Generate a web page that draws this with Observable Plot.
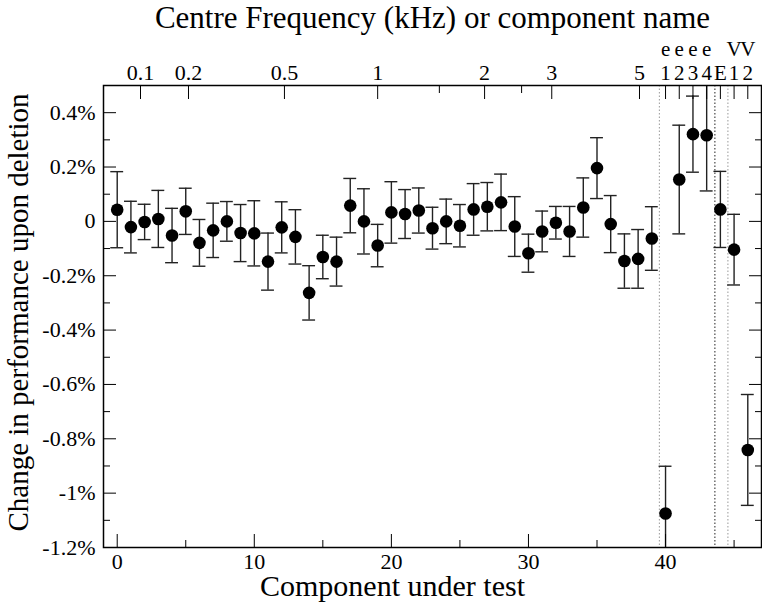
<!DOCTYPE html>
<html>
<head>
<meta charset="utf-8">
<script src="https://cdn.jsdelivr.net/npm/d3@7"></script>
<script src="https://cdn.jsdelivr.net/npm/@observablehq/plot@0.6"></script>
<style>
  html, body { margin: 0; padding: 0; background: #fff; }
  svg { display: block; }
</style>
</head>
<body>
<script>
// ---- data ----
const components = d3.range(0, 47); // component index 0..46
const changePct = [0.043,-0.021,-0.002,0.009,-0.052,0.037,-0.079,-0.033,0.0,-0.043,
  -0.044,-0.148,-0.022,-0.057,-0.263,-0.131,-0.148,0.058,0.0,-0.089,
  0.033,0.027,0.04,-0.025,0.0,-0.016,0.044,0.054,0.07,-0.019,
  -0.117,-0.037,-0.005,-0.037,0.051,0.196,-0.01,-0.146,-0.138,-0.063,
  -1.075,0.154,0.321,0.317,0.044,-0.104,-0.841];
const errorPct = [0.14,0.095,0.065,0.105,0.1,0.085,0.086,0.1,0.073,0.105,
  0.12,0.105,0.094,0.1,0.1,0.08,0.09,0.1,0.12,0.078,
  0.113,0.09,0.083,0.077,0.082,0.078,0.095,0.089,0.104,0.11,
  0.07,0.075,0.06,0.092,0.109,0.112,0.105,0.1,0.108,0.117,
  0.174,0.2,0.14,0.205,0.14,0.13,0.204];

const yMajor = [0.4, 0.2, 0, -0.2, -0.4, -0.6, -0.8, -1.0, -1.2];
const yLabels = ["0.4%", "0.2%", "0", "-0.2%", "-0.4%", "-0.6%", "-0.8%", "-1%", "-1.2%"];
const yMinor = [0.3, 0.1, -0.1, -0.3, -0.5, -0.7, -0.9, -1.1];

const xMajor = [0, 10, 20, 30, 40];
const xMinor = [5, 15, 25, 35, 45];

const freqPos = [1.7, 5.2, 12.2, 19.0, 26.8, 31.7, 38.1];
const freqLabels = ["0.1", "0.2", "0.5", "1", "2", "3", "5"];
const freqMinor = [23.5, 29.5];

const compPos = [40, 41, 42, 43, 44, 45, 46];
const compLabels = ["e\n1", "e\n2", "e\n3", "e\n4", "E", "V\n1", "V\n2"];

const separators = [39.55, 43.6, 44.55];

const topTitle = "Centre Frequency (kHz) or component name";
const bottomTitle = "Component under test";
const leftTitle = "Change in performance upon deletion";

const data = components.map((c, i) => ({x: c, v: changePct[i], e: errorPct[i]}));

const FONT = "Liberation Serif";
const capHalf = 0.47;

const chart = Plot.plot({
  width: 762,
  height: 602,
  marginLeft: 103,
  marginRight: 1,
  marginTop: 85,
  marginBottom: 55,
  style: {fontSize: "22px", color: "black", background: "white"},
  x: {domain: [-1, 47]},
  y: {domain: [-1.2, 0.5]},
  marks: [
    // separators between groups of components
    Plot.ruleX(separators, {x: d => d, stroke: (d, i) => i === 1 ? "#222" : "#999", strokeDasharray: "1.5,2", strokeWidth: 1}),
    // error bars
    Plot.ruleX(data, {x: "x", y1: d => d.v - d.e, y2: d => d.v + d.e, stroke: "#222", strokeWidth: 1.4, clip: true}),
    Plot.ruleY(data, {y: d => d.v + d.e, x1: d => d.x - capHalf, x2: d => d.x + capHalf, stroke: "#222", strokeWidth: 1.4, clip: true}),
    Plot.ruleY(data, {y: d => d.v - d.e, x1: d => d.x - capHalf, x2: d => d.x + capHalf, stroke: "#222", strokeWidth: 1.4, clip: true}),
    Plot.dot(data, {x: "x", y: "v", r: 6.3, fill: "black", stroke: null}),
    // axes (ticks drawn inward)
    Plot.axisY({anchor: "left", ticks: yMajor, tickSize: -13, tickPadding: 21, tickFormat: d => yLabels[yMajor.indexOf(d)], label: null}),
    Plot.axisY({anchor: "left", ticks: yMinor, tickSize: -7, fill: "none", label: null}),
    Plot.axisY({anchor: "right", ticks: yMajor, tickSize: -13, fill: "none", label: null}),
    Plot.axisY({anchor: "right", ticks: yMinor, tickSize: -7, fill: "none", label: null}),
    Plot.axisX({anchor: "bottom", ticks: xMajor, tickSize: -13, tickPadding: 19, tickFormat: d => String(d), label: null}),
    Plot.axisX({anchor: "bottom", ticks: xMinor, tickSize: -7, fill: "none", label: null}),
    Plot.axisX({anchor: "top", ticks: freqPos, tickSize: -13, tickPadding: 19, tickFormat: d => freqLabels[freqPos.indexOf(d)], label: null}),
    Plot.axisX({anchor: "top", ticks: freqMinor, tickSize: -7, fill: "none", label: null}),
    Plot.axisX({anchor: "top", ticks: compPos, tickSize: -13, tickPadding: 19, lineHeight: 1.12, fontSize: 21, tickFormat: d => compLabels[compPos.indexOf(d)], label: null}),
    Plot.frame({stroke: "black", strokeWidth: 1.5}),
    // titles
    Plot.text([topTitle], {frameAnchor: "top", textAnchor: "middle", lineAnchor: "middle", dy: -67, fontSize: 31}),
    Plot.text([bottomTitle], {frameAnchor: "bottom", textAnchor: "middle", lineAnchor: "middle", dx: -40, dy: 39, fontSize: 30}),
    Plot.text([leftTitle], {frameAnchor: "left", textAnchor: "middle", lineAnchor: "middle", dx: -85, dy: -4, rotate: -90, fontSize: 29})
  ]
});

// serif typeface, set directly on every text element
chart.setAttribute("font-family", FONT);
chart.querySelectorAll("text, tspan").forEach(el => {
  el.setAttribute("font-family", FONT);
  el.style.fontFamily = FONT;
});
document.body.append(chart);
</script>
</body>
</html>
